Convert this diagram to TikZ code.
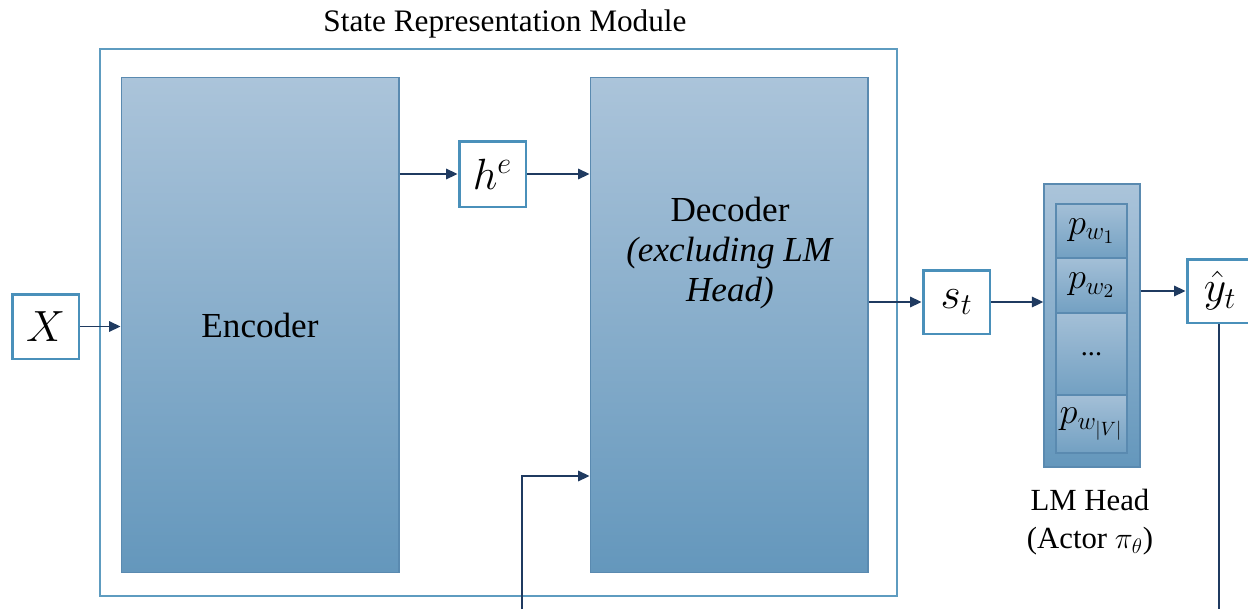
\documentclass[tikz,border=0pt]{standalone}
\usepackage{fontspec}
\setmainfont{Liberation Serif}
\usetikzlibrary{arrows.meta,calc}
\definecolor{navy}{HTML}{1F3A60}
\definecolor{boxline}{HTML}{4A90BA}
\definecolor{frameline}{HTML}{5E9CC0}
\definecolor{shadetop}{HTML}{ABC4DA}
\definecolor{shadebot}{HTML}{6497BC}
\definecolor{blockline}{HTML}{5A8AB0}
\tikzset{
  block/.style={draw=blockline, line width=0.6pt, top color=shadetop, bottom color=shadebot, inner sep=0pt},
  cell/.style={draw=blockline, line width=0.8pt, top color=shadetop!90!shadebot, bottom color=shadebot!80!shadetop,
    minimum width=1.42cm, inner sep=0pt, font=\fontsize{21}{24}\selectfont},
  varbox/.style={draw=boxline, line width=1.7pt, fill=white, inner sep=0pt, font=\fontsize{25}{28}\selectfont},
  arr/.style={draw=navy, line width=0.9pt, -{Triangle[length=6.5pt,width=6pt]}},
  wire/.style={draw=navy, line width=0.9pt},
  lbl/.style={align=center, inner sep=0pt}
}
\begin{document}
\begin{tikzpicture}[x=0.02cm, y=-0.02cm]
  \path[use as bounding box] (0,0) rectangle (1248,609);
  \clip (0,0) rectangle (1248,609);

  % module frame and its title
  \node[draw=frameline, line width=1.1pt, minimum width=15.94cm, minimum height=10.94cm, inner sep=0pt] (srm) at (498.5,322.5) {};
  \node[lbl, font=\fontsize{17.8}{20}\selectfont] (srmtitle) at (505,24) {State Representation Module};

  % encoder and decoder blocks
  \node[block, minimum width=5.56cm, minimum height=9.92cm, font=\fontsize{20}{24}\selectfont] (enc) at (260,325) {Encoder};
  \node[block, minimum width=5.56cm, minimum height=9.92cm] (dec) at (729,325) {};
  \node[lbl, font=\fontsize{20}{24}\selectfont] (dectext) at (730,253)
    {Decoder\\[-1pt] \textit{(excluding LM}\\[-1pt] \textit{Head)}};

  % variables
  \node[varbox, minimum width=1.34cm, minimum height=1.30cm] (X) at (45.5,326.5) {$X$};
  \node[varbox, minimum width=1.34cm, minimum height=1.32cm] (he) at (492.5,174) {$h^e$};
  \node[varbox, minimum width=1.34cm, minimum height=1.28cm] (st) at (956.5,302) {$s_t$};
  \node[varbox, minimum width=1.32cm, minimum height=1.28cm] (yhat) at (1220,291) {$\hat{y}_t$};

  % LM head with token probabilities
  \node[block, line width=0.8pt, minimum width=1.92cm, minimum height=5.66cm] (lm) at (1092,325.5) {};
  \node[cell, minimum height=1.08cm] (pw1) at (1091.5,231) {$p_{w_1}$};
  \node[cell, minimum height=1.10cm] (pw2) at (1091.5,285.5) {$p_{w_2}$};
  \node[cell, minimum height=1.64cm] (pdots) at (1091.5,354) {\fontsize{16}{18}\selectfont ...};
  \node[cell, minimum height=1.16cm] (pwv) at (1091.5,424) {$p_{w_{|V|}}$};
  \node[lbl, font=\fontsize{17.5}{22}\selectfont] (lmtext) at (1090,522)
    {LM Head\\ (Actor $\pi_\theta$)};

  % connectors
  \draw[arr] (X.east) -- (X.east -| enc.west);
  \draw[arr] (he.west -| enc.east) -- (he.west);
  \draw[arr] (he.east) -- (he.east -| dec.west);
  \draw[arr] (st.west -| dec.east) -- (st.west);
  \draw[arr] (st.east) -- (st.east -| lm.west);
  \draw[arr] (yhat.west -| lm.east) -- (yhat.west);

  \coordinate (yout) at (1219,609);
  \draw[wire] (yhat.south -| yout) -- (yout);

  \coordinate (fbin) at (522,609);
  \coordinate (fbtap) at (590,476);
  \draw[arr] (fbin) |- (fbtap -| dec.west);
\end{tikzpicture}
\end{document}
